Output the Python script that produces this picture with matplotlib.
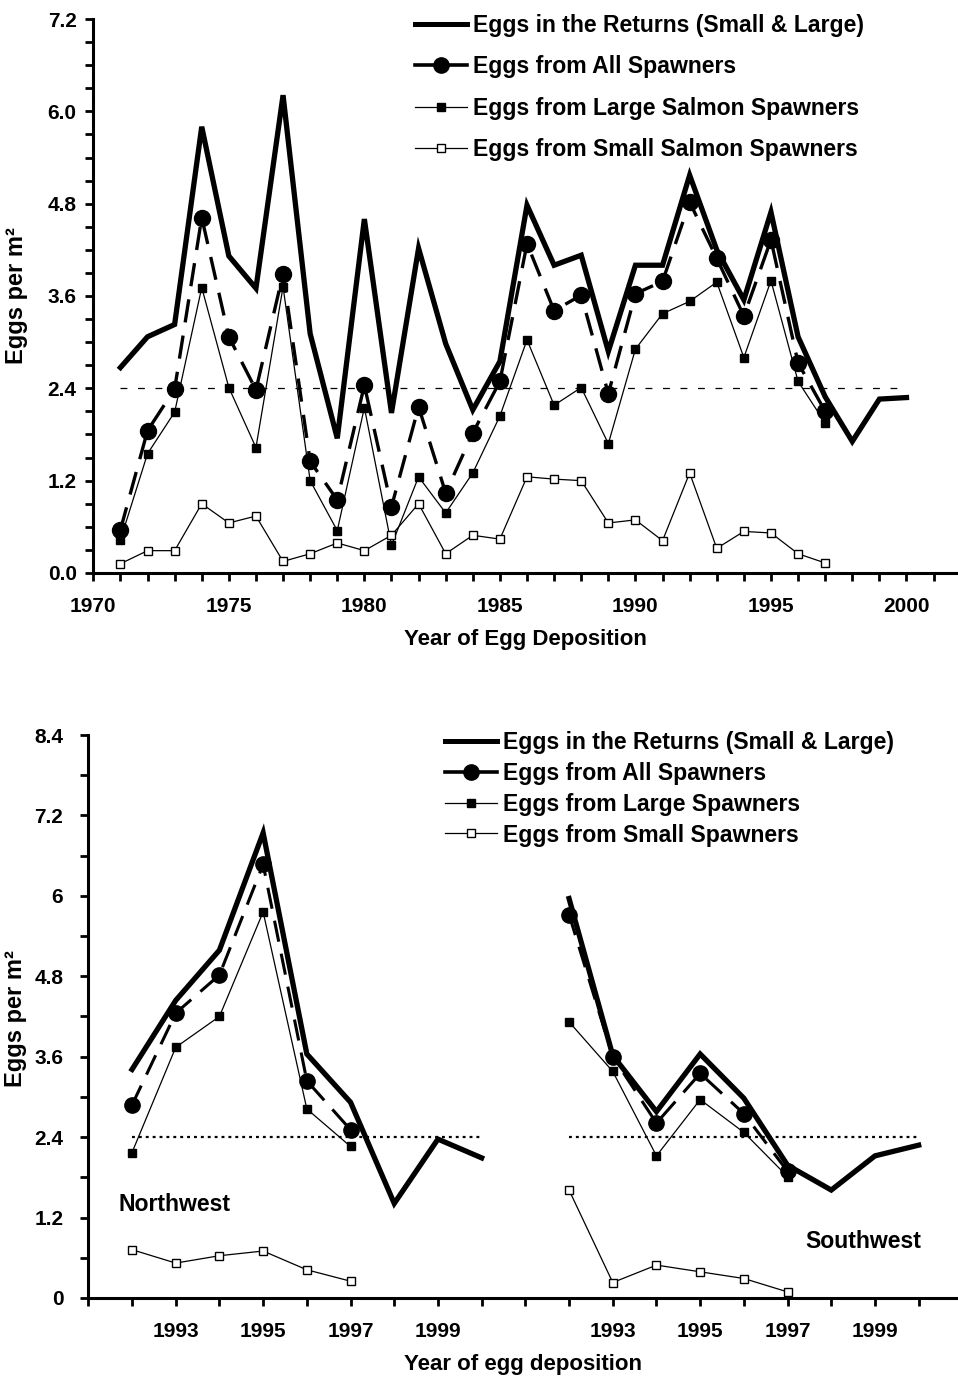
import matplotlib
matplotlib.use("Agg")
import matplotlib.pyplot as plt
from matplotlib.lines import Line2D

plt.rcParams['font.family'] = ['Liberation Sans', 'DejaVu Sans']
plt.rcParams['font.weight'] = 'bold'
plt.rcParams['axes.labelweight'] = 'bold'

# --- whole river, 1971-2000 ---
years = list(range(1971, 2001))
eggs_returns = [2.67, 3.07, 3.23, 5.80, 4.12, 3.70, 6.21, 3.11, 1.75, 4.60,
                2.08, 4.22, 2.98, 2.12, 2.75, 4.78, 4.00, 4.13, 2.88, 4.00,
                4.00, 5.17, 4.20, 3.55, 4.69, 3.07, 2.29, 1.71, 2.26, 2.28]
spawn_years = list(range(1971, 1998))
eggs_all = [0.56, 1.85, 2.39, 4.62, 3.07, 2.38, 3.89, 1.45, 0.95, 2.44,
            0.86, 2.16, 1.04, 1.82, 2.49, 4.28, 3.41, 3.61, 2.33, 3.63,
            3.79, 4.82, 4.09, 3.34, 4.33, 2.73, 2.10]
eggs_large = [0.43, 1.55, 2.09, 3.71, 2.41, 1.63, 3.72, 1.20, 0.55, 2.15,
              0.36, 1.25, 0.78, 1.30, 2.04, 3.03, 2.18, 2.41, 1.68, 2.91,
              3.37, 3.53, 3.78, 2.80, 3.80, 2.49, 1.95]
eggs_small = [0.12, 0.29, 0.29, 0.90, 0.65, 0.74, 0.15, 0.25, 0.39, 0.29,
              0.49, 0.90, 0.25, 0.49, 0.44, 1.25, 1.22, 1.20, 0.65, 0.69,
              0.42, 1.30, 0.32, 0.54, 0.52, 0.25, 0.13]
conservation = 2.4

# --- Northwest and Southwest, 1992-2000 ---
reg_years = list(range(1992, 2001))
reg_spawn_years = list(range(1992, 1998))
nw_returns = [3.41, 4.44, 5.19, 6.94, 3.64, 2.92, 1.41, 2.37, 2.09]
nw_all = [2.88, 4.25, 4.82, 6.47, 3.24, 2.51]
nw_large = [2.17, 3.74, 4.20, 5.76, 2.82, 2.26]
nw_small = [0.72, 0.52, 0.63, 0.70, 0.42, 0.25]
sw_returns = [5.96, 3.62, 2.78, 3.64, 2.98, 1.98, 1.61, 2.12, 2.28]
sw_all = [5.72, 3.60, 2.61, 3.35, 2.75, 1.89]
sw_large = [4.12, 3.38, 2.12, 2.96, 2.47, 1.81]
sw_small = [1.61, 0.23, 0.49, 0.39, 0.29, 0.09]

labels_top = ["Eggs in the Returns (Small & Large)", "Eggs from All Spawners",
              "Eggs from Large Salmon Spawners", "Eggs from Small Salmon Spawners"]
labels_bot = ["Eggs in the Returns (Small & Large)", "Eggs from All Spawners",
              "Eggs from Large Spawners", "Eggs from Small Spawners"]

fs = 16.6      # legend / annotation text
fs_lab = 16    # axis titles
fs_tick = 15


def draw_series(ax, x_ret, ret, x_sp, al, lg, sm, circle_ms, dash_lw):
    ax.plot(x_ret, ret, color='k', lw=3.8, zorder=3, solid_joinstyle='miter')
    ax.plot(x_sp, al, color='k', lw=dash_lw, dashes=(7, 4), marker='o',
            ms=circle_ms, zorder=4)
    ax.plot(x_sp, lg, color='k', lw=0.9, marker='s', ms=5.8, zorder=5)
    ax.plot(x_sp, sm, color='k', lw=0.9, marker='s', ms=6.2, mfc='white',
            mec='k', mew=1.0, zorder=5)


def legend_handles():
    return [Line2D([], [], color='k', lw=3.6),
            Line2D([], [], color='k', lw=2.6, marker='o', ms=11),
            Line2D([], [], color='k', lw=0.9, marker='s', ms=5.5),
            Line2D([], [], color='k', lw=0.9, marker='s', ms=6, mfc='white', mew=1.0)]


def style_axes(ax):
    for s in ['top', 'right']:
        ax.spines[s].set_visible(False)
    for s in ['left', 'bottom']:
        ax.spines[s].set_linewidth(2.2)
    ax.tick_params(which='both', width=2.0, labelsize=fs_tick)
    ax.tick_params(axis='y', which='both', direction='out', length=6)
    ax.tick_params(axis='x', which='both', direction='out', length=6)


fig = plt.figure(figsize=(9.58, 13.78), dpi=100)

# top panel
ax1 = fig.add_axes([0.0974, 0.5842, 0.9026, 0.402])
draw_series(ax1, years, eggs_returns, spawn_years, eggs_all, eggs_large,
            eggs_small, 11.5, 2.4)
ax1.plot([years[0], years[-1]], [conservation, conservation], color='k',
         lw=0.9, dashes=(5.5, 8.5), zorder=1)
ax1.set_xlim(1970, 2001.9)
ax1.set_ylim(0, 7.2)
ax1.set_yticks([0.0, 1.2, 2.4, 3.6, 4.8, 6.0, 7.2])
ax1.set_yticks([i * 0.3 for i in range(25)], minor=True)
ax1.set_xticks([1970, 1975, 1980, 1985, 1990, 1995, 2000])
ax1.set_xticks(list(range(1970, 2002)), minor=True)
ax1.set_yticklabels(["0.0", "1.2", "2.4", "3.6", "4.8", "6.0", "7.2"])
style_axes(ax1)
ax1.tick_params(axis='x', which='major', pad=11)
ax1.tick_params(axis='y', which='major', pad=6)
ax1.set_xlabel("Year of Egg Deposition", fontsize=fs_lab, labelpad=10)
ax1.set_ylabel("Eggs per m²", fontsize=17)
ax1.yaxis.set_label_coords(-0.076, 0.5)
ax1.legend(legend_handles(), labels_top, loc='upper left',
           bbox_to_anchor=(415 / 958, 1 - 14 / 1378), bbox_transform=fig.transFigure,
           frameon=False, fontsize=fs, handlelength=2.27, handletextpad=0.26,
           labelspacing=0.8, borderpad=0, borderaxespad=0)

# bottom panel: Northwest and Southwest on one axis
nw_off = 1991
sw_off = 1981
ax2 = fig.add_axes([0.0922, 0.0581, 0.9078, 0.4085])
draw_series(ax2, [y - nw_off for y in reg_years], nw_returns,
            [y - nw_off for y in reg_spawn_years], nw_all, nw_large, nw_small, 11, 2.2)
draw_series(ax2, [y - sw_off for y in reg_years], sw_returns,
            [y - sw_off for y in reg_spawn_years], sw_all, sw_large, sw_small, 11, 2.2)
for off in (nw_off, sw_off):
    ax2.plot([reg_years[0] - off, reg_years[-1] - off], [conservation, conservation],
             color='k', lw=1.6, dashes=(1.3, 1.8), zorder=1)
ax2.set_xlim(0, 19.9)
ax2.set_ylim(0, 8.4)
ax2.set_yticks([0, 1.2, 2.4, 3.6, 4.8, 6.0, 7.2, 8.4])
ax2.set_yticklabels(["0", "1.2", "2.4", "3.6", "4.8", "6", "7.2", "8.4"])
ax2.set_yticks([i * 0.6 for i in range(15)], minor=True)
lab_years = [1993, 1995, 1997, 1999]
ax2.set_xticks([y - nw_off for y in lab_years] + [y - sw_off for y in lab_years])
ax2.set_xticklabels([str(y) for y in lab_years] * 2)
ax2.set_xticks(list(range(0, 20)), minor=True)
style_axes(ax2)
ax2.tick_params(axis='x', which='major', pad=11)
ax2.tick_params(axis='y', which='major', pad=12)
ax2.set_xlabel("Year of egg deposition", fontsize=fs_lab, labelpad=10)
ax2.set_ylabel("Eggs per m²", fontsize=17)
ax2.yaxis.set_label_coords(-0.070, 0.496)
ax2.text(0.68, 1.39, "Northwest", fontsize=fs, va='center', ha='left')
ax2.text(19.07, 0.84, "Southwest", fontsize=fs, va='center', ha='right')
ax2.legend(legend_handles(), labels_bot, loc='upper left',
           bbox_to_anchor=(445 / 958, 1 - 731 / 1378), bbox_transform=fig.transFigure,
           frameon=False, fontsize=fs, handlelength=2.27, handletextpad=0.26,
           labelspacing=0.34, borderpad=0, borderaxespad=0)

fig.savefig("out.png", dpi=100)
